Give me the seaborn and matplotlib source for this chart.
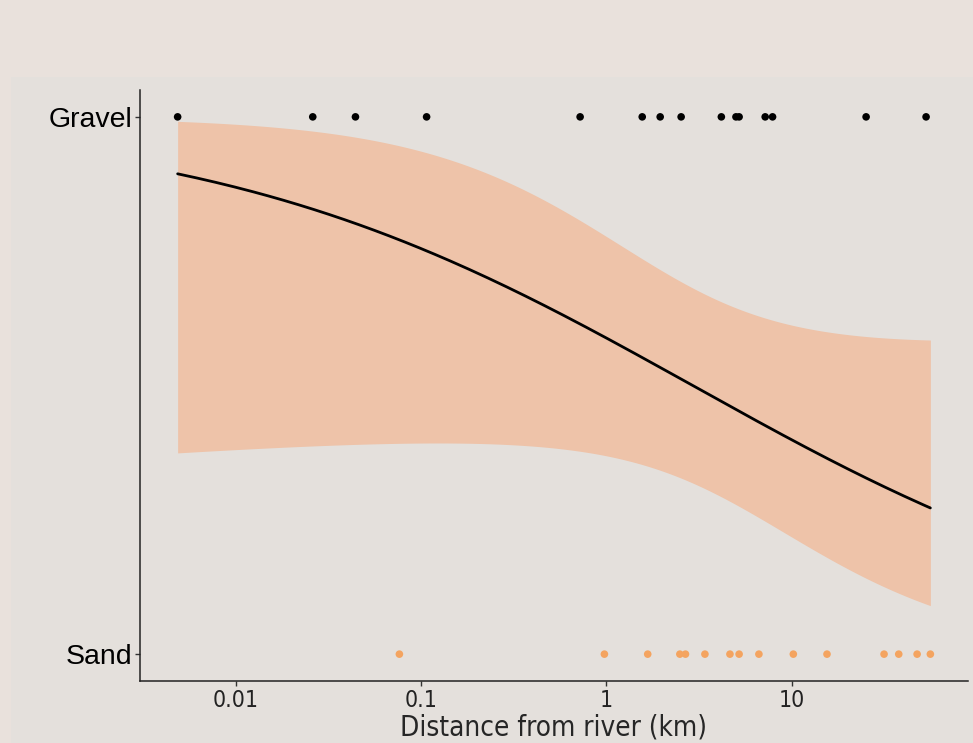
import numpy as np
import pandas as pd
import matplotlib
matplotlib.use("Agg")
import matplotlib.pyplot as plt
import seaborn as sns
from matplotlib.patches import Rectangle
from matplotlib.ticker import FixedLocator, FixedFormatter, NullLocator

# ---- data (distance from river, km) ----
gravel_km = [0.00485, 0.026, 0.0442, 0.107, 0.721, 1.56, 1.95, 2.53, 4.17,
             5.0, 5.2, 7.19, 7.88, 25.2, 53.1]
sand_km = [0.0763, 0.975, 1.67, 2.49, 2.67, 3.40, 4.64, 5.20, 6.65, 10.2,
           15.5, 31.5, 37.8, 47.5, 56.0]
categories = ["Sand", "Gravel"]
x_ticks = [0.01, 0.1, 1, 10]
x_ticklabels = ["0.01", "0.1", "1", "10"]

df = pd.DataFrame({
    "dist": gravel_km + sand_km,
    "gravel": [1] * len(gravel_km) + [0] * len(sand_km),
})
df["lx"] = np.log10(df["dist"])

# ---- logistic regression (binomial GLM on log10 distance) via IRLS ----
X = np.column_stack([np.ones(len(df)), df["lx"].values])
y = df["gravel"].values.astype(float)
beta = np.zeros(2)
for _ in range(50):
    eta = X @ beta
    mu = 1 / (1 + np.exp(-eta))
    W = mu * (1 - mu)
    z = eta + (y - mu) / W
    XtW = X.T * W
    beta_new = np.linalg.solve(XtW @ X, XtW @ z)
    if np.max(np.abs(beta_new - beta)) < 1e-10:
        beta = beta_new
        break
    beta = beta_new
mu = 1 / (1 + np.exp(-(X @ beta)))
cov = np.linalg.inv((X.T * (mu * (1 - mu))) @ X)

grid = np.linspace(df["lx"].min(), df["lx"].max(), 200)
G = np.column_stack([np.ones_like(grid), grid])
eta_g = G @ beta
se_g = np.sqrt(np.einsum("ij,jk,ik->i", G, cov, G))
inv = lambda e: 1 / (1 + np.exp(-e))
fit = pd.DataFrame({"dist": 10 ** grid, "p": inv(eta_g),
                    "lo": inv(eta_g - 1.959964 * se_g),
                    "hi": inv(eta_g + 1.959964 * se_g)})

# ---- figure ----
outer_bg = "#e9e1dc"
panel_bg = "#e4e0dc"
sns.set_style("white")
plt.rcParams["font.family"] = ["Liberation Sans", "DejaVu Sans"]

fig = plt.figure(figsize=(9.73, 7.43), dpi=100, facecolor=outer_bg)
fig.add_artist(Rectangle((11 / 973, 0), 1 - 11 / 973, 1 - 77 / 743,
                         transform=fig.transFigure, facecolor=panel_bg,
                         edgecolor="none", zorder=-10))
ax = fig.add_axes([140 / 973, 1 - 681 / 743, (968 - 140) / 973, (681 - 90) / 743])
ax.set_facecolor(panel_bg)
ax.set_xscale("log")

ax.fill_between(fit["dist"], fit["lo"], fit["hi"], color="#eec3a9", lw=0, zorder=1)
sns.lineplot(data=fit, x="dist", y="p", ax=ax, color="black", lw=2.0, zorder=3)
sns.scatterplot(data=df[df.gravel == 1], x="dist", y="gravel", ax=ax,
                color="black", s=30, edgecolor="none", zorder=4)
sns.scatterplot(data=df[df.gravel == 0], x="dist", y="gravel", ax=ax,
                color="#f4a460", s=30, edgecolor="none", zorder=4)

lmin, lmax = np.log10(df["dist"].min()), np.log10(df["dist"].max())
pad = 0.05 * (lmax - lmin)
ax.set_xlim(10 ** (lmin - pad), 10 ** (lmax + pad))
ax.set_ylim(-0.05, 1.05)

ax.xaxis.set_major_locator(FixedLocator(x_ticks))
ax.xaxis.set_major_formatter(FixedFormatter(x_ticklabels))
ax.xaxis.set_minor_locator(NullLocator())
ax.set_yticks([0, 1])
ax.set_yticklabels(categories)

narrow = ["DejaVu Sans"]
for lab in ax.get_xticklabels():
    lab.set_fontfamily(narrow)
    lab.set_fontstretch("condensed")
    lab.set_fontsize(16.5)
    lab.set_color("#222222")
for lab in ax.get_yticklabels():
    lab.set_fontsize(20.5)
    lab.set_color("black")
ax.set_xlabel("Distance from river (km)", fontsize=20, family=narrow,
              fontstretch="condensed", labelpad=1)
ax.set_ylabel("")

for s in ["top", "right"]:
    ax.spines[s].set_visible(False)
for s in ["left", "bottom"]:
    ax.spines[s].set_color("#222222")
    ax.spines[s].set_linewidth(1.1)
ax.tick_params(axis="both", which="major", length=3.5, width=1.0,
               color="#333333", pad=2, left=True, bottom=True)

fig.savefig("out.png", dpi=100, facecolor=outer_bg)
